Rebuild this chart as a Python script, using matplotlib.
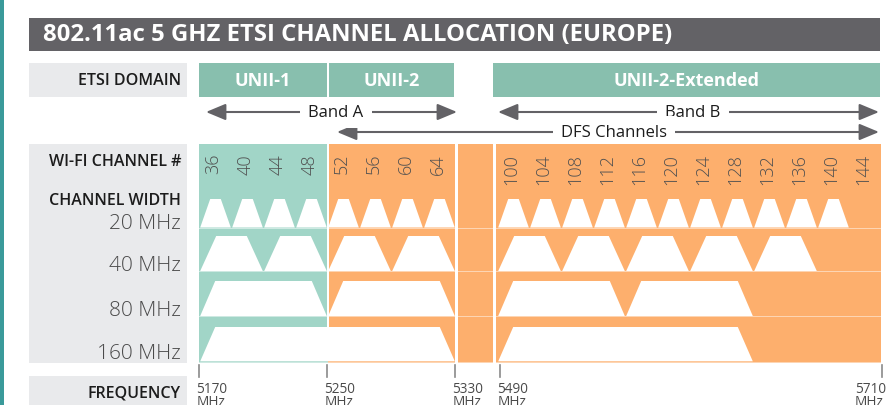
import matplotlib.pyplot as plt
from matplotlib.patches import Rectangle, Polygon

plt.rcParams['font.family'] = ['Open Sans', 'DejaVu Sans']

# ---- data ----
title = '802.11ac 5 GHZ ETSI CHANNEL ALLOCATION (EUROPE)'
domains = ['UNII-1', 'UNII-2', 'UNII-2-Extended']
channels = [36, 40, 44, 48, 52, 56, 60, 64,
            100, 104, 108, 112, 116, 120, 124, 128, 132, 136, 140, 144]
ch20 = [36, 40, 44, 48, 52, 56, 60, 64,
        100, 104, 108, 112, 116, 120, 124, 128, 132, 136, 140]
ch40 = [(36, 40), (44, 48), (52, 56), (60, 64),
        (100, 104), (108, 112), (116, 120), (124, 128), (132, 136)]
ch80 = [(36, 48), (52, 64), (100, 112), (116, 128)]
ch160 = [(36, 64), (100, 128)]
width_labels = ['20 MHz', '40 MHz', '80 MHz', '160 MHz']
freq_labels = ['5170', '5250', '5330', '5490', '5710']

# ---- colours ----
TEAL_DARK = '#3a9a9a'
TEAL_HEAD = '#88bfae'
TEAL = '#a1d5c7'
ORANGE = '#fdaf6d'
GREY_BAR = '#636266'
PANEL = '#e9eaec'
TXT = '#1c1c1c'
TXT_LIGHT = '#4a4a4a'

PXMHZ = 1.6
X_A0, X_B0 = 199, 497       # left edge of band A / band B


def f2x(f):
    if f <= 5330:
        return X_A0 + (f - 5170) * PXMHZ
    return X_B0 + (f - 5490) * PXMHZ


def ch_lo(c):
    return f2x(5000 + 5 * c - 10)


def ch_hi(c):
    return f2x(5000 + 5 * c + 10) if c != 64 else f2x(5330)


fig = plt.figure(figsize=(8.88, 4.06), dpi=100)
ax = fig.add_axes([0, 0, 1, 1])
ax.set_xlim(0, 888)
ax.set_ylim(406, 0)
ax.axis('off')

# left accent strip + title bar
ax.add_patch(Rectangle((0, 0), 4, 406, color=TEAL_DARK, lw=0))
ax.add_patch(Rectangle((29, 19), 851, 33, color=GREY_BAR, lw=0))
ax.text(43, 35.5, title, color='white', fontsize=17.2, fontweight='bold',
        va='center', ha='left')

# label panels
ax.add_patch(Rectangle((29, 64), 158, 34, color=PANEL, lw=0))
ax.add_patch(Rectangle((29, 145), 158, 219, color=PANEL, lw=0))
ax.add_patch(Rectangle((29, 377), 158, 40, color=PANEL, lw=0))

for lbl, y in [('ETSI DOMAIN', 81), ('WI-FI CHANNEL #', 162),
               ('CHANNEL WIDTH', 201), ('FREQUENCY', 394)]:
    ax.text(181, y, lbl, ha='right', va='center', fontsize=11.5,
            fontweight='semibold', color=TXT)

# domain header boxes
x_split = f2x(5250)
dom_spans = [(X_A0, x_split - 0.5), (x_split + 2, f2x(5330) - 1),
             (X_B0 - 4, 880)]
for name, (a, b) in zip(domains, dom_spans):
    ax.add_patch(Rectangle((a, 64), b - a, 34, color=TEAL_HEAD, lw=0, zorder=2))
    ax.text((a + b) / 2, 81, name, color='white', fontsize=13,
            fontweight='bold', ha='center', va='center', zorder=3)


# arrows (drawn under the panels so the label boxes never cover them)
def band_arrow(x0, x1, y, label, xl):
    ax.annotate('', xy=(x1, y), xytext=(x0, y), zorder=1.2,
                arrowprops=dict(arrowstyle='<|-|>,head_length=0.6,head_width=0.25',
                                mutation_scale=20, color=GREY_BAR, lw=1.5,
                                shrinkA=0, shrinkB=0))
    ax.text(xl, y, label, ha='center', va='center', fontsize=12, color=TXT,
            bbox=dict(fc='white', ec='none', pad=6), zorder=1.5)


band_arrow(206, 457, 113, 'Band A', 336)
band_arrow(498, 879, 113, 'Band B', 693)
band_arrow(337, 879, 133, 'DFS Channels', 614)

# channel area backgrounds
TOP, BOT = 145, 363.5
x_end = f2x(5730)
bg = [(X_A0, x_split + 1, TEAL), (x_split + 1, f2x(5330), ORANGE),
      (f2x(5330) + 3, X_B0 - 4, ORANGE), (X_B0 - 1, x_end, ORANGE)]
for a, b, col in bg:
    ax.add_patch(Rectangle((a, TOP), b - a, BOT - TOP, color=col, lw=0, zorder=2))
# divider between UNII-1 and UNII-2 (rows above 160 MHz)
ax.add_patch(Rectangle((x_split, TOP), 2, 328 - TOP, color='white', lw=0,
                       zorder=2.1))

# channel numbers
for c in channels:
    xc = (ch_lo(c) + ch_hi(c)) / 2
    ax.text(xc - 1.5, 154, str(c), rotation=90, ha='center', va='top',
            fontsize=13, fontweight='light', color='#505050', zorder=3)

# trapezoids: (list of spans, top, bottom, inset)
rows = [
    ([(c, c) for c in ch20], 200, 228.5, 10),
    (ch40, 237, 272, 16),
    (ch80, 282, 317, 15),
    (ch160, 328, 362.3, 15),
]
for spans, yt, yb, ins in rows:
    for c0, c1 in spans:
        a, b = ch_lo(c0) + 1.2, ch_hi(c1) - 0.2
        ax.add_patch(Polygon([(a, yb), (a + ins, yt), (b - ins, yt), (b, yb)],
                             closed=True, fc='white', ec='none', zorder=2.2))
    for a, b in [(X_A0, f2x(5330)), (f2x(5330) + 3, x_end)]:
        ax.plot([a, b], [yb + 0.4, yb + 0.4], color='white', lw=0.7, alpha=0.5,
                zorder=2.3)

for lbl, y in zip(width_labels, [224, 266, 311, 354]):
    ax.text(181, y, lbl, ha='right', va='center', fontsize=15,
            fontweight='light', color=TXT_LIGHT)

# frequency ticks
tick_x = [X_A0, x_split, f2x(5330), X_B0 + 3, x_end + 1]
for i, (lbl, tx) in enumerate(zip(freq_labels, tick_x)):
    ax.plot([tx, tx], [366, 378], color='#8a8a8a', lw=1.2)
    if i == len(freq_labels) - 1:
        ax.text(tx + 4, 382, lbl + '\nMHz', ha='right', va='top', fontsize=9.8,
                color=TXT_LIGHT, linespacing=0.85, multialignment='left')
    else:
        ax.text(tx - 2.5, 382, lbl + '\nMHz', ha='left', va='top', fontsize=9.8,
                color=TXT_LIGHT, linespacing=0.85)

fig.savefig('out.png', dpi=100)
